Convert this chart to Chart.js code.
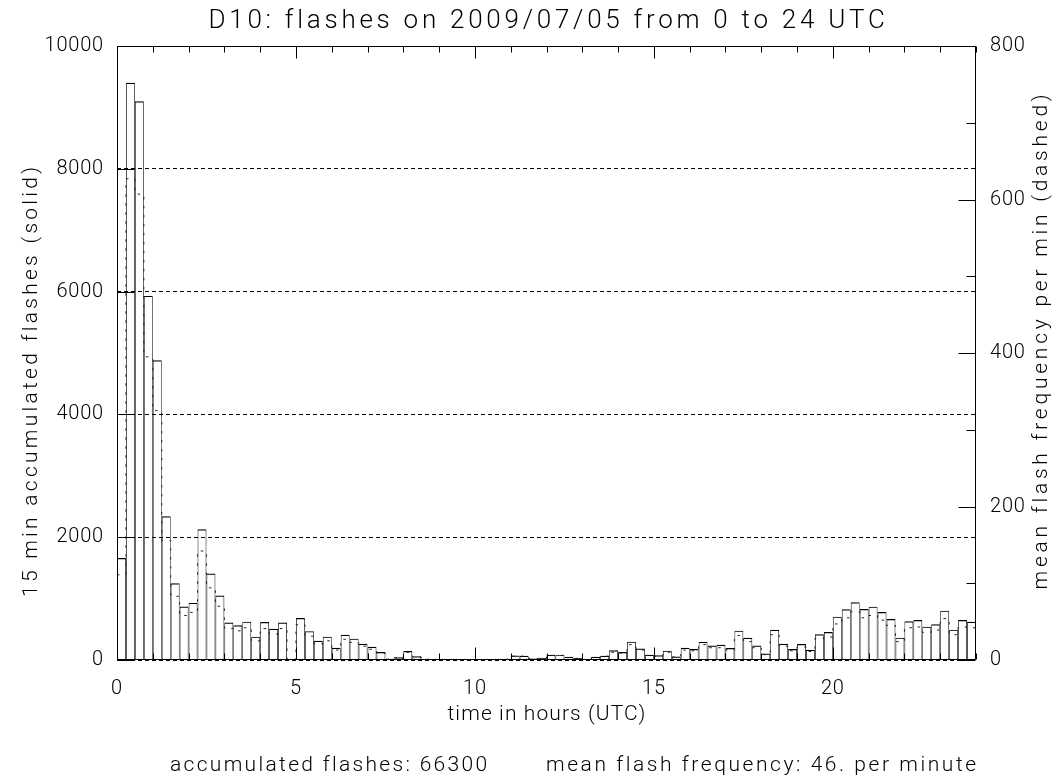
<!DOCTYPE html>
<html>
<head>
<meta charset="utf-8">
<title>D10 flashes 2009/07/05</title>
<script src="https://cdn.jsdelivr.net/npm/chart.js@4.4.1/dist/chart.umd.min.js"></script>
<style>
  html, body { margin: 0; padding: 0; background: #ffffff; }
  #wrap { width: 1060px; height: 783px; }
</style>
</head>
<body>
<div id="wrap"><canvas id="chart" width="1060" height="783"></canvas></div>
<script>
// Flash counts accumulated in 15-minute bins, 00:00 to 24:00 UTC
const flashCounts = [
  1660, 9400, 9100, 5930, 4880, 2340, 1250, 870, 930, 2130, 1410, 1050,
  610, 565, 625, 380, 620, 510, 610, 10, 685, 470, 312, 380,
  198, 410, 348, 264, 217, 130, 22, 43, 145, 62, 16, 5,
  3, 2, 0, 2, 0, 3, 5, 10, 73, 70, 25, 36,
  84, 87, 52, 36, 3, 52, 70, 157, 130, 299, 188, 84,
  78, 152, 58, 198, 180, 296, 236, 247, 195, 478, 361, 236,
  106, 492, 264, 180, 261, 166, 418, 456, 706, 825, 939, 831,
  869, 782, 668, 364, 630, 652, 543, 581, 804, 494, 652, 624
];

// Mean flash frequency per minute in each 15-minute bin
const flashRatePerMin = [
  111, 627, 607, 395, 325, 156, 83, 58, 62, 142, 94, 70,
  41, 38, 42, 25, 41, 34, 41, 1, 46, 31, 21, 25,
  13, 27, 23, 18, 14, 9, 1, 3, 10, 4, 1, 0,
  0, 0, 0, 0, 0, 0, 0, 1, 5, 5, 2, 2,
  6, 6, 3, 2, 0, 3, 5, 10, 9, 20, 13, 6,
  5, 10, 4, 13, 12, 20, 16, 16, 13, 32, 24, 16,
  7, 33, 18, 12, 17, 11, 28, 30, 47, 55, 63, 55,
  58, 52, 45, 24, 42, 43, 36, 39, 54, 33, 43, 42
];

// Bin layout (hours UTC)
const binWidthHours = 0.25;
const binStartHours = Array.from({ length: flashCounts.length }, (_, i) => i * binWidthHours);

// Axis ticks
const hourTickLabels = [0, 5, 10, 15, 20];
const hourMinorTicks = Array.from({ length: 25 }, (_, i) => i);
const countTicks = [0, 2000, 4000, 6000, 8000, 10000];
const rateTicks = [0, 200, 400, 600, 800];
const rateMinorTicks = [100, 300, 500, 700];

// Text
const titleText = 'D10: flashes on 2009/07/05 from 0 to 24 UTC';
const xTitle = 'time in hours (UTC)';
const yTitle = '15 min accumulated flashes (solid)';
const y2Title = 'mean flash frequency per min (dashed)';
const totalText = 'accumulated flashes: 66300';
const meanText = 'mean flash frequency: 46. per minute';

const FONT = 'Roboto, "DejaVu Sans", sans-serif';
const WEIGHT = 300;

const barPoints = binStartHours.map((h, i) => ({ x: h + binWidthHours / 2, y: flashCounts[i] }));
const stepPoints = binStartHours.map((h, i) => ({ x: h, y: flashRatePerMin[i] }));
stepPoints.push({ x: binStartHours[binStartHours.length - 1] + binWidthHours, y: flashRatePerMin[flashRatePerMin.length - 1] });

// Text drawn with letter spacing chosen so the run spans the given width
function drawSpread(ctx, text, x, y, size, width, align) {
  ctx.font = WEIGHT + ' ' + size + 'px ' + FONT;
  ctx.letterSpacing = '0px';
  const w = ctx.measureText(text).width;
  const sp = (width - w) / Math.max(1, text.length - 1);
  ctx.letterSpacing = sp.toFixed(2) + 'px';
  ctx.textAlign = 'left';
  let x0 = x;
  if (align === 'center') x0 = x - width / 2;
  else if (align === 'right') x0 = x - width;
  ctx.fillText(text, x0, y);
  ctx.letterSpacing = '0px';
}

// Tick labels get a little extra spacing between digits
const spacing = {
  id: 'spacing',
  beforeDraw(chart) { chart.ctx.letterSpacing = '0.8px'; },
  afterDatasetsDraw(chart) { chart.ctx.letterSpacing = '0px'; }
};

// Frame, inward tick marks and the free-standing labels
const frameAndText = {
  id: 'frameAndText',
  afterDatasetsDraw(chart) {
    const { ctx, chartArea: a, scales } = chart;
    const xs = scales.x, ys = scales.y, y2s = scales.y2;
    const L = Math.round(a.left) + 0.5, R = Math.round(a.right) - 0.5;
    const T = Math.round(a.top) + 0.5, B = Math.round(a.bottom) - 0.5;
    ctx.save();
    ctx.strokeStyle = '#000';
    ctx.lineWidth = 1;
    ctx.setLineDash([]);
    ctx.beginPath();
    ctx.rect(L, T, R - L, B - T);
    // hour ticks on bottom and top edges
    hourMinorTicks.forEach(h => {
      const px = Math.round(xs.getPixelForValue(h)) + 0.5;
      const len = h % 5 === 0 ? 12 : 6;
      ctx.moveTo(px, B); ctx.lineTo(px, B - len);
      ctx.moveTo(px, T); ctx.lineTo(px, T + len);
    });
    // count ticks on the left edge
    countTicks.forEach(v => {
      const py = Math.round(ys.getPixelForValue(v)) + 0.5;
      ctx.moveTo(L, py); ctx.lineTo(L + 17, py);
    });
    // rate ticks on the right edge
    rateTicks.forEach(v => {
      const py = Math.round(y2s.getPixelForValue(v)) + 0.5;
      ctx.moveTo(R, py); ctx.lineTo(R - 17, py);
    });
    rateMinorTicks.forEach(v => {
      const py = Math.round(y2s.getPixelForValue(v)) + 0.5;
      ctx.moveTo(R, py); ctx.lineTo(R - 9, py);
    });
    ctx.stroke();

    ctx.fillStyle = '#000';
    ctx.textBaseline = 'alphabetic';
    const cx = (a.left + a.right) / 2;
    drawSpread(ctx, titleText, cx, 28, 26, 676, 'center');
    drawSpread(ctx, xTitle, cx, 720, 21, 198, 'center');
    // y axis titles, both read bottom to top
    ctx.save();
    ctx.translate(37, 382);
    ctx.rotate(-Math.PI / 2);
    drawSpread(ctx, yTitle, 0, 0, 21, 430, 'center');
    ctx.restore();
    ctx.save();
    ctx.translate(1047, 342);
    ctx.rotate(-Math.PI / 2);
    drawSpread(ctx, y2Title, 0, 0, 21, 495, 'center');
    ctx.restore();
    // summary line
    drawSpread(ctx, totalText, 170, 771, 21, 317, 'left');
    drawSpread(ctx, meanText, 546, 771, 21, 430, 'left');
    ctx.restore();
  }
};

const tickFont = { family: FONT, size: 20, weight: WEIGHT };
const plainNumber = v => String(v);

new Chart(document.getElementById('chart').getContext('2d'), {
  type: 'bar',
  data: {
    datasets: [
      {
        type: 'bar',
        label: '15 min accumulated flashes',
        data: barPoints,
        xAxisID: 'x',
        yAxisID: 'y',
        backgroundColor: 'rgba(0,0,0,0)',
        borderColor: '#000',
        borderWidth: { top: 1.2, left: 0.7, right: 0.7, bottom: 0 },
        borderSkipped: 'start',
        inflateAmount: 0,
        barPercentage: 1,
        categoryPercentage: 1,
        order: 2
      },
      {
        type: 'line',
        label: 'mean flash frequency per min',
        data: stepPoints,
        xAxisID: 'x',
        yAxisID: 'y2',
        stepped: 'before',
        borderColor: '#222',
        borderWidth: 1,
        borderDash: [2.5, 6.5],
        pointRadius: 0,
        fill: false,
        order: 1
      }
    ]
  },
  options: {
    responsive: false,
    animation: false,
    devicePixelRatio: 1,
    layout: { padding: { top: 46, left: 0, right: 0, bottom: 0 } },
    plugins: {
      legend: { display: false },
      title: { display: false },
      tooltip: { enabled: false }
    },
    scales: {
      x: {
        type: 'linear',
        min: 0,
        max: 24,
        offset: false,
        grid: { display: false },
        border: { display: false },
        afterBuildTicks: s => { s.ticks = hourTickLabels.map(v => ({ value: v })); },
        afterFit: s => { s.height = 123; },
        ticks: { font: tickFont, color: '#000', padding: 9, maxRotation: 0, autoSkip: false, callback: plainNumber }
      },
      y: {
        position: 'left',
        min: 0,
        max: 10000,
        grid: { color: '#000', lineWidth: 1, drawTicks: false },
        border: { display: false, dash: [4, 3] },
        afterBuildTicks: s => { s.ticks = countTicks.map(v => ({ value: v })); },
        afterFit: s => { s.width = 117; },
        ticks: { font: tickFont, color: '#000', padding: 13, callback: plainNumber }
      },
      y2: {
        position: 'right',
        min: 0,
        max: 800,
        grid: { display: false, drawOnChartArea: false },
        border: { display: false },
        afterBuildTicks: s => { s.ticks = rateTicks.map(v => ({ value: v })); },
        afterFit: s => { s.width = 84; },
        ticks: { font: tickFont, color: '#000', padding: 6, callback: plainNumber }
      }
    }
  },
  plugins: [spacing, frameAndText]
});
</script>
</body>
</html>
